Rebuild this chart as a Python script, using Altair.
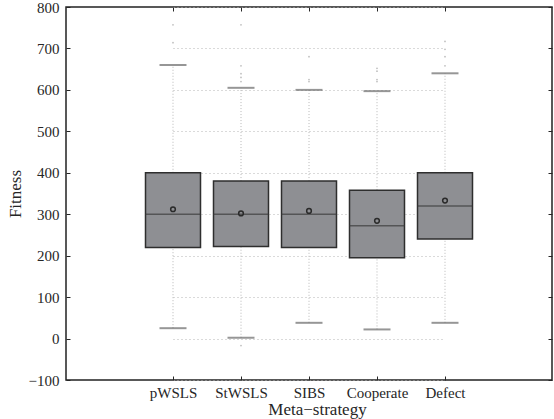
import altair as alt
import pandas as pd

categories = ["pWSLS", "StWSLS", "SIBS", "Cooperate", "Defect"]
q1 = [220, 222, 220, 195, 240]
median = [300, 300, 300, 272, 320]
q3 = [400, 380, 380, 358, 400]
mean = [312, 302, 308, 284, 333]
whisk_low = [25, 2, 38, 22, 38]
whisk_high = [660, 605, 600, 597, 640]

outlier_cat = ["pWSLS", "pWSLS",
               "StWSLS", "StWSLS", "StWSLS", "StWSLS", "StWSLS", "StWSLS",
               "SIBS", "SIBS", "SIBS",
               "Cooperate", "Cooperate", "Cooperate", "Cooperate",
               "Defect", "Defect", "Defect", "Defect"]
outlier_val = [757, 714,
               757, 658, 639, 630, 620, -17,
               680, 625, 620,
               652, 645, 625, 620,
               717, 698, 680, 658]

y_ticks = [-100, 0, 100, 200, 300, 400, 500, 600, 700, 800]

stats = pd.DataFrame({
    "cat": categories, "q1": q1, "median": median, "q3": q3,
    "mean": mean, "lo": whisk_low, "hi": whisk_high,
})
outl = pd.DataFrame({"cat": outlier_cat, "val": outlier_val})

FONT = "Liberation Serif"
TXT = "#262626"

xscale = alt.Scale(type="point", domain=categories, range=[107, 379], padding=0)
yscale = alt.Scale(domain=[-100, 800], nice=False, zero=False)

x_axis = alt.Axis(orient="bottom", offset=-4, tickSize=4, tickColor=TXT, tickWidth=1,
                  domain=False, grid=False, labelAngle=0, labelFont=FONT, labelFontSize=15,
                  labelColor=TXT, labelPadding=5, title="Meta\u2212strategy",
                  titleFont=FONT, titleFontSize=17, titleFontWeight="normal",
                  titleColor=TXT, titlePadding=1, titleX=251)
y_axis = alt.Axis(orient="left", offset=-4, tickSize=4, tickColor=TXT, tickWidth=1,
                  values=y_ticks, domain=False, grid=True, gridDash=[1, 3],
                  gridColor="#b5b5b5", gridWidth=1, labelFont=FONT, labelFontSize=15,
                  labelColor=TXT, labelPadding=7, title="Fitness", titleFont=FONT,
                  titleFontSize=17, titleFontWeight="normal", titleColor=TXT,
                  titlePadding=4)

X = alt.X("cat:N", scale=xscale, axis=x_axis, sort=categories)

base = alt.Chart(stats)

whisk_up = base.mark_rule(color="#b8b8b8", strokeDash=[1, 2], strokeWidth=1).encode(
    x=X, y=alt.Y("q3:Q", scale=yscale, axis=y_axis), y2="hi:Q")
whisk_dn = base.mark_rule(color="#b8b8b8", strokeDash=[1, 2], strokeWidth=1).encode(
    x=X, y=alt.Y("lo:Q", scale=yscale, axis=y_axis), y2="q1:Q")
box = base.mark_bar(size=55, fill="#8e8f93", stroke="#2e2e2e", strokeWidth=1.5).encode(
    x=X, y=alt.Y("q1:Q", scale=yscale, axis=y_axis), y2="q3:Q")
med = base.mark_tick(size=55, thickness=1.5, color="#3c3c3c").encode(
    x=X, y=alt.Y("median:Q", scale=yscale, axis=y_axis))
cap_hi = base.mark_tick(size=27, thickness=2, color="#6a6a6a").encode(
    x=X, y=alt.Y("hi:Q", scale=yscale, axis=y_axis))
cap_lo = base.mark_tick(size=27, thickness=2, color="#6a6a6a").encode(
    x=X, y=alt.Y("lo:Q", scale=yscale, axis=y_axis))
mean_pt = base.mark_point(shape="circle", size=22, filled=False, stroke="#2a2a2a",
                          strokeWidth=1.5, opacity=1).encode(
    x=X, y=alt.Y("mean:Q", scale=yscale, axis=y_axis))

main = alt.layer(whisk_up, whisk_dn, box, med, cap_hi, cap_lo, mean_pt)

x_axis_top = alt.Axis(orient="top", offset=-4, tickSize=4, tickColor=TXT, domain=False,
                      labels=False, grid=False, title=None)
y_axis_right = alt.Axis(orient="right", offset=-4, tickSize=4, tickColor=TXT, domain=False,
                        values=y_ticks, labels=False, grid=False, title=None)

outl_layer = alt.Chart(outl).mark_circle(size=3, color="#bdbdbd", opacity=1).encode(
    x=alt.X("cat:N", scale=xscale, axis=x_axis_top, sort=categories),
    y=alt.Y("val:Q", scale=yscale, axis=y_axis_right))

chart = alt.layer(main, outl_layer).resolve_axis(
    x="independent", y="independent"
).properties(
    width=486, height=373,
    autosize=alt.AutoSizeParams(type="none"),
    padding={"left": 66, "top": 7, "right": 2, "bottom": 39},
    background="white",
).configure_view(stroke="#222222", strokeWidth=1.5)

chart.save("out.html", embed_options={"renderer": "svg", "actions": False})
